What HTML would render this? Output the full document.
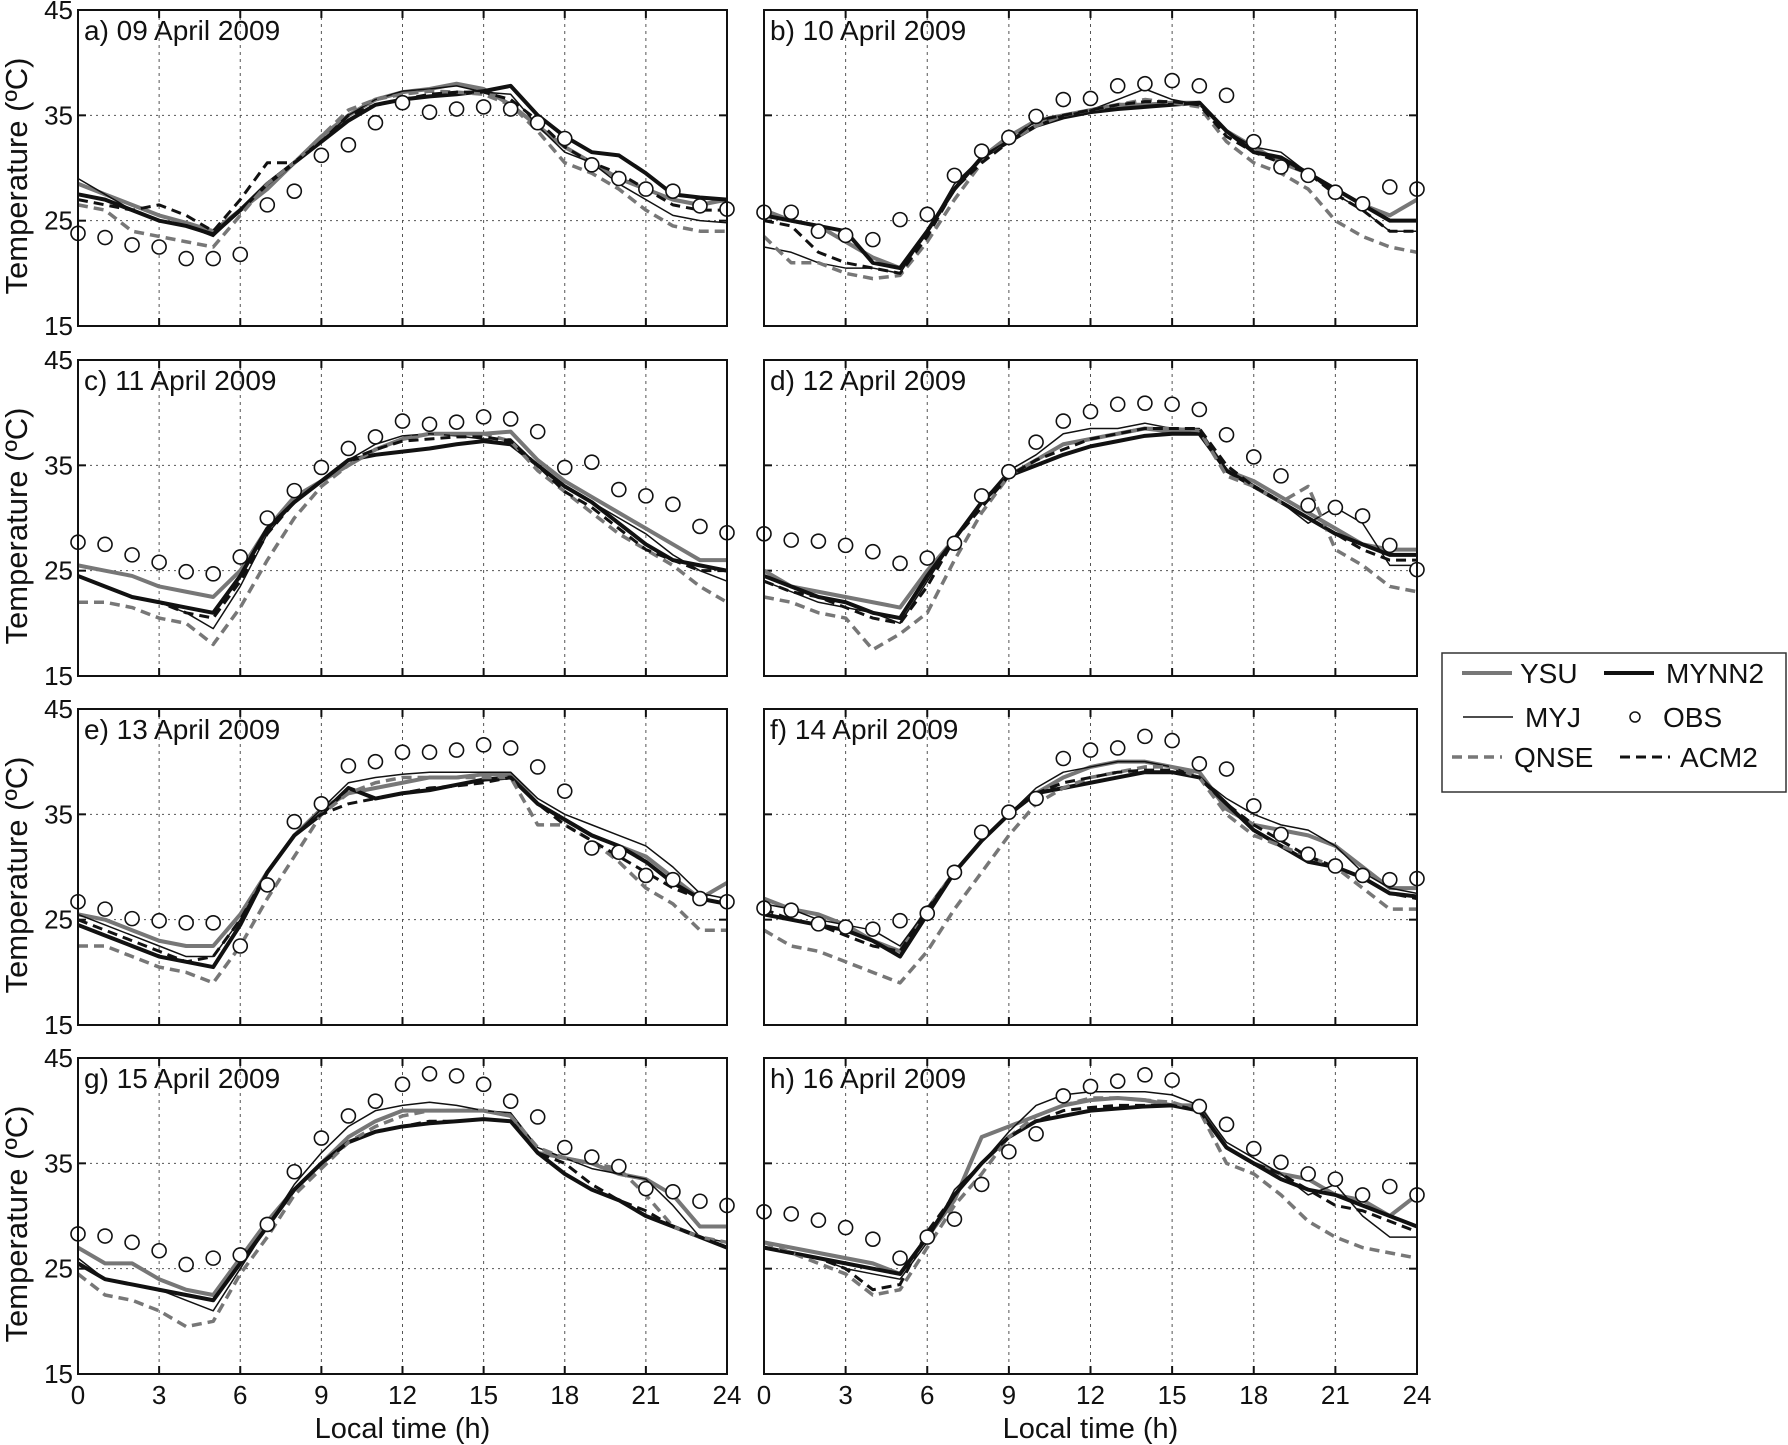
<!DOCTYPE html>
<html><head><meta charset="utf-8"><style>
html,body{margin:0;padding:0;background:#fff;}
svg{display:block;font-family:"Liberation Sans",Arial,sans-serif;}
</style></head><body>
<svg id="chart" width="1788" height="1445" viewBox="0 0 1788 1445" xmlns="http://www.w3.org/2000/svg"></svg>
<script>
const hours=[0,1,2,3,4,5,6,7,8,9,10,11,12,13,14,15,16,17,18,19,20,21,22,23,24];
const panelTitles=["a) 09 April 2009","b) 10 April 2009","c) 11 April 2009","d) 12 April 2009","e) 13 April 2009","f) 14 April 2009","g) 15 April 2009","h) 16 April 2009"];
const xTicks=[0,3,6,9,12,15,18,21,24];
const yTicks=[15,25,35,45];
const seriesNames=["YSU","MYNN2","MYJ","QNSE","ACM2"];
const obsA=[23.8,23.4,22.7,22.5,21.4,21.4,21.8,26.5,27.8,31.2,32.2,34.3,36.2,35.3,35.6,35.8,35.6,34.3,32.8,30.3,29,28,27.8,26.4,26.1];
const ysuA=[28.5,27.5,26.5,25.5,24.8,24,26,28,30.5,33,35,36.5,37.2,37.5,38,37.5,36,34,32,30.5,29,28,27,26.5,27];
const mynnA=[27.5,27,26,25,24.5,23.7,26,28.5,30.5,32.5,34.5,36,36.5,36.8,37,37.3,37.8,35,33,31.5,31.2,29.5,27.5,27.2,27];
const myjA=[29,27.5,26,25,24.5,23.5,26,28.5,30.5,32.5,35,36.5,37.3,37.5,37.8,37.2,37,34,31.5,30.5,28.5,27,25.5,25,24.8];
const qnseA=[26.5,26,24,23.5,23,22.5,25.5,28.5,30.5,33,35.5,36.5,37,37.3,37.2,37,36,33.5,30.5,29.5,28,26,24.5,24,24];
const acmA=[27,26.5,26,26.5,25.5,24,27,30.5,30.5,32.5,35,36,36.5,37,37.2,37.2,36.5,34.5,32,30.5,29.5,28,26.5,26,26];
const obsB=[25.8,25.8,24,23.6,23.2,25.1,25.6,29.3,31.6,32.9,34.9,36.5,36.6,37.8,38,38.3,37.8,36.9,32.5,30.1,29.3,27.7,26.6,28.2,28];
const ysuB=[26,25,24.5,23,21.5,20.5,24,28,31,33,34.5,35,35.5,36,36,36.2,36.2,33.5,32,30.5,29.5,28,26.5,25.5,27];
const mynnB=[25.5,25,24.5,24,21,20.5,24,28,31,32.5,34,34.8,35.3,35.6,35.8,36,36.2,33.5,31.5,31,29.5,28,26.5,25,25];
const myjB=[22.5,22,21,20.5,20.5,20,24,28.5,31,32.5,34.5,35,35.5,36.5,37.5,36.5,36,33.5,32,31.5,29.5,27.5,26,24,24];
const qnseB=[23.5,21,21,20,19.5,19.8,23,27,30.5,32.5,34,35,35.5,36,36.5,36.2,35.8,32.5,30.5,29.5,28,25,23.5,22.5,22];
const acmB=[25,24.5,22,21,20.5,20,23.5,28,30.5,32.5,34.5,35,35.5,36,36.3,36.3,36,33,31.5,30.5,29.5,27.5,26,24,24];
const obsC=[27.7,27.5,26.5,25.8,24.9,24.7,26.3,30,32.6,34.8,36.6,37.7,39.2,38.9,39.1,39.6,39.4,38.2,34.8,35.3,32.7,32.1,31.3,29.2,28.6];
const ysuC=[25.5,25,24.5,23.5,23,22.5,25,29,32,33.5,35,36.5,37.5,38,38,38,38.2,35.5,33.5,32,30.5,29,27.5,26,26];
const mynnC=[24.5,23.5,22.5,22,21.5,21,24.5,29,31.5,33.5,35.5,36,36.3,36.6,37,37.3,37,35,33,31.5,29.5,27.5,26,25.5,25];
const myjC=[24.5,23.5,22.5,22,21,19.5,23.5,28.5,31.5,33.5,35.5,37,37.8,38,37.8,37.5,37.5,35,33,31.5,30,28.5,26.5,25,24];
const qnseC=[22,22,21.5,20.5,20,18,21.5,26,30,33,35,36.5,37.5,38,38,38,37.3,34.5,32.5,30.5,28.5,27,25.5,23.5,22];
const acmC=[24.5,23.5,22.5,22,21,20.5,24,28.5,31.5,33.5,35.5,36.5,37.3,37.5,37.7,37.7,37.3,35,32.5,31,29,27,26,25,25];
const obsD=[28.5,27.9,27.8,27.4,26.8,25.7,26.2,27.6,32.1,34.4,37.2,39.2,40.1,40.8,40.9,40.8,40.3,37.9,35.8,34,31.2,31,30.2,27.4,25.1];
const ysuD=[25,23.5,23,22.5,22,21.5,25,28,31.5,34,35.5,37,37.5,38,38.5,38.2,38.2,34.5,33.5,32,30.5,29,27.5,27,27];
const mynnD=[24.5,23.5,22.5,22,21,20.5,24.5,28,31.5,34,35,36,36.8,37.3,37.8,38,38,34.5,33,31.5,30,28.5,27.5,26.5,26.5];
const myjD=[24,23,22,21.5,21,20,24,28,31.5,34.5,36,38,38.5,38.5,39,38.5,38.5,34.5,33,31.5,29.5,31,29.5,25.5,25.5];
const qnseD=[22.5,22,21,20.5,17.5,19,21,26,30.5,34,35.5,37,37.5,38,38.5,38.5,38.3,34,33,31.5,33,27,25.5,23.5,23];
const acmD=[24,23,22.5,21.5,20.5,20,23.5,28,31,34,35.5,36.5,37.5,38,38.5,38.5,38.5,35,33,31.5,30,28.5,27,26,26];
const obsE=[26.7,26,25.1,24.9,24.7,24.7,22.5,28.3,34.3,36,39.6,40,40.9,40.9,41.1,41.6,41.3,39.5,37.2,31.8,31.4,29.2,28.8,27,26.7];
const ysuE=[25.5,25,24,23,22.5,22.5,25.5,29.5,33,35.5,37,37.5,38,38.5,38.5,38.8,38.8,36,34.5,33,32,31,29,27,28.5];
const mynnE=[24.5,23.5,22.5,21.5,21,20.5,24.5,29.5,33,35,37.5,36.5,37,37.3,37.8,38.3,38.5,36,34.5,33,32,30.5,28.5,27,26.5];
const myjE=[25.5,24.5,23.5,22.5,21.5,21.5,25,29.5,33,35.5,38,38.5,38.8,39,39,39,39,36.5,35,34,33,32,30,27.5,27];
const qnseE=[22.5,22.5,21.5,20.5,20,19,22.5,27,31,35,37,38,38.5,38.5,38.5,38.5,38.5,34,34,32.5,30.5,28,26.5,24,24];
const acmE=[25,24,23,22,21,21.5,25,29.5,33,35,36,36.5,37,37.5,37.7,38,38.5,36,34,32.5,31,29.5,28,27,26.5];
const obsF=[26.1,25.9,24.6,24.3,24.1,24.9,25.6,29.5,33.3,35.2,36.5,40.3,41.1,41.3,42.4,42,39.8,39.3,35.8,33.1,31.2,30.1,29.2,28.8,28.9];
const ysuF=[27,26,25.5,24.5,23,22,26,29.5,32.5,35,37,38.5,39.5,40,40,39.5,39,35.5,34,33.5,33,32,30,28,28];
const mynnF=[25.5,25,24.5,24,23,21.5,25.5,29.5,32.5,35,37,37.5,38,38.5,39,39,38.5,36,33.5,32,30.5,30,29,27.5,27.2];
const myjF=[26.5,26,25,24.5,24,22.5,26,29.5,32.5,35,37.5,39,39.5,40,40,39.5,38.5,36.5,35,34,33.5,32,29.5,28,27.5];
const qnseF=[24,22.5,22,21,20,19,22,26,29.5,33,36,37.5,38.5,39,39.5,39.5,38.5,35,33,32,31,30,28,26,26];
const acmF=[26,25,24.5,23.5,22.5,22,26,29.5,32.5,35,37,38,38.5,39,39.2,39.2,38.5,36,34,32.5,31,30,29,27.5,27];
const obsG=[28.3,28.1,27.5,26.7,25.4,26,26.3,29.2,34.2,37.4,39.5,40.9,42.5,43.5,43.3,42.5,40.9,39.4,36.5,35.6,34.7,32.6,32.3,31.4,31];
const ysuG=[27,25.5,25.5,24,23,22.5,26,29.5,32.5,35,37.5,39,40,40,40,40,39.5,36,35.5,35,34,33.5,32,29,29];
const mynnG=[25.5,24,23.5,23,22.5,22,25.5,29,32.5,35,37,38,38.5,38.8,39,39.2,39,36,34,32.5,31.5,30,29,28,27];
const myjG=[26,24,23.5,23,22,21,25,29,33,36,38.5,40,40.5,40.8,40.5,40,39.8,36.5,35.5,34.5,34,33.5,31,28,27.5];
const qnseG=[24.5,22.5,22,21,19.5,20,24.5,28,32,34.5,37,38.5,39.5,40,40,40,39.5,36.5,35.5,35,34.5,32,29,28,27.5];
const acmG=[25.5,24,23.5,23,22.5,22,25.5,29,32.5,35,37,38,38.5,39,39,39.2,39,36,35,33,31.5,30.5,29,28,27];
const obsH=[30.4,30.2,29.6,28.9,27.8,26,28,29.7,33,36.1,37.8,41.4,42.3,42.8,43.4,42.9,40.4,38.7,36.4,35.1,34,33.5,32,32.8,32];
const ysuH=[27.5,27,26.5,26,25.5,24.5,28,31.5,37.5,38.5,39.5,40.5,41,41.2,41,40.5,40.5,36.5,35,34,33.5,32,31.5,30,32];
const mynnH=[27,26.5,26,25.5,25,24.5,28,32,35,37.5,39,39.5,40,40.2,40.4,40.5,40,36.5,35,33.5,32.5,32,31,30,29];
const myjH=[27,26.5,26,25,24.5,24,27.5,32.5,35,38,40.5,41.5,41.8,41.8,41.8,41.5,40.5,37,35.5,34,32,33,30,28,28];
const qnseH=[27.5,26.5,25.5,24.5,22.5,23,27,31,34,37.5,39.5,40.5,41.2,41.2,41,40.8,40,35,34,32,29.5,28,27,26.5,26];
const acmH=[27,26.5,26,25,23,23.5,28.5,32,35,37.5,39,40,40.3,40.5,40.5,40.5,40,36.5,35,34,32.5,31,30.5,29.5,28.5];

const panels=[
 {obs:obsA,s:[ysuA,mynnA,myjA,qnseA,acmA]},{obs:obsB,s:[ysuB,mynnB,myjB,qnseB,acmB]},
 {obs:obsC,s:[ysuC,mynnC,myjC,qnseC,acmC]},{obs:obsD,s:[ysuD,mynnD,myjD,qnseD,acmD]},
 {obs:obsE,s:[ysuE,mynnE,myjE,qnseE,acmE]},{obs:obsF,s:[ysuF,mynnF,myjF,qnseF,acmF]},
 {obs:obsG,s:[ysuG,mynnG,myjG,qnseG,acmG]},{obs:obsH,s:[ysuH,mynnH,myjH,qnseH,acmH]}];
const styles=[
 {c:"#777",w:4,d:""},{c:"#111",w:4,d:""},{c:"#111",w:1.5,d:""},{c:"#777",w:3.5,d:"10,6"},{c:"#111",w:3,d:"10,6"}];
const NS="http://www.w3.org/2000/svg";
const svg=document.getElementById("chart");
function mk(tag,attrs,parent){const e=document.createElementNS(NS,tag);for(const k in attrs)e.setAttribute(k,attrs[k]);(parent||svg).appendChild(e);return e;}
const colX=[78,764],colW=[649,653],rowY=[10,360,709,1058],H=316;
panels.forEach((p,i)=>{
 const col=i%2,row=Math.floor(i/2);
 const x0=colX[col],w=colW[col],y0=rowY[row];
 const xs=h=>x0+h/24*w, ys=v=>y0+H-(v-15)/30*H;
 const g=mk("g",{});
 
 
 xTicks.forEach(t=>{
  if(t>0&&t<24){const l=mk("line",{x1:xs(t),x2:xs(t),y1:y0,y2:y0+H,stroke:"#555","stroke-width":1,"stroke-dasharray":"3,4"},g);
   }
  mk("line",{x1:xs(t),x2:xs(t),y1:y0+H,y2:y0+H-8,stroke:"#111","stroke-width":2},g);
  mk("line",{x1:xs(t),x2:xs(t),y1:y0,y2:y0+8,stroke:"#111","stroke-width":2},g);
  if(row===3){const tx=mk("text",{x:xs(t),y:y0+H+30,"text-anchor":"middle","font-size":26,fill:"#111"},g);tx.textContent=t;
   }
 });
 yTicks.forEach(t=>{
  if(t>15&&t<45){const l=mk("line",{x1:x0,x2:x0+w,y1:ys(t),y2:ys(t),stroke:"#555","stroke-width":1,"stroke-dasharray":"2,4"},g);
   }
  mk("line",{x1:x0,x2:x0+8,y1:ys(t),y2:ys(t),stroke:"#111","stroke-width":2},g);
  mk("line",{x1:x0+w,x2:x0+w-8,y1:ys(t),y2:ys(t),stroke:"#111","stroke-width":2},g);
  if(col===0){const tx=mk("text",{x:x0-5,y:ys(t)+9,"text-anchor":"end","font-size":26,fill:"#111"},g);tx.textContent=t;
   }
 });
 p.s.forEach((arr,k)=>{
  const st=styles[k];
  const pl=mk("polyline",{points:arr.map((v,j)=>xs(hours[j])+","+ys(v)).join(" "),fill:"none",stroke:st.c,"stroke-width":st.w,"stroke-dasharray":st.d,"stroke-linejoin":"round"},g);
  
  
 });
 p.obs.forEach((v,j)=>{
  const c=mk("circle",{cx:xs(hours[j]),cy:ys(v),r:7,fill:"#fff",stroke:"#111","stroke-width":1.6},g);
  
  
 });
 const fr=mk("rect",{x:x0,y:y0,width:w,height:H,fill:"none",stroke:"#111","stroke-width":2},g);
 
 const ti=mk("text",{x:x0+6,y:y0+30,"font-size":28,fill:"#111"},g);ti.textContent=panelTitles[i];
 
 if(col===0){const yl=mk("text",{x:0,y:0,transform:"translate(27,"+(y0+H/2+8)+") rotate(-90)","text-anchor":"middle","font-size":31,fill:"#111"},g);
  yl.textContent="Temperature (ºC)";}
 if(row===3){const xl=mk("text",{x:x0+w/2,y:1438,"text-anchor":"middle","font-size":29,fill:"#111"},g);
  xl.textContent="Local time (h)";}
});
// legend
const lg=mk("g",{});


mk("rect",{x:1442,y:653,width:344,height:139,fill:"#fff",stroke:"#333","stroke-width":1.5},lg);
const legItems=[
 {k:0,x:1462,y:673,tx:1520},{k:1,x:1604,y:673,tx:1666},
 {k:2,x:1463,y:717,tx:1525},{k:-1,x:1635,y:717,tx:1663},
 {k:3,x:1452,y:757,tx:1514},{k:4,x:1620,y:757,tx:1680}];
legItems.forEach(it=>{
 if(it.k>=0){const st=styles[it.k];mk("line",{x1:it.x,x2:it.x+50,y1:it.y,y2:it.y,stroke:st.c,"stroke-width":st.w,"stroke-dasharray":st.d},lg);}
 else mk("circle",{cx:it.x,cy:it.y,r:5,fill:"#fff",stroke:"#111","stroke-width":1.5},lg);
 const t=mk("text",{x:it.tx,y:it.y+10,"font-size":28,fill:"#111"},lg);
 t.textContent=it.k>=0?seriesNames[it.k]:"OBS";
 
 
});
</script>
</body></html>
